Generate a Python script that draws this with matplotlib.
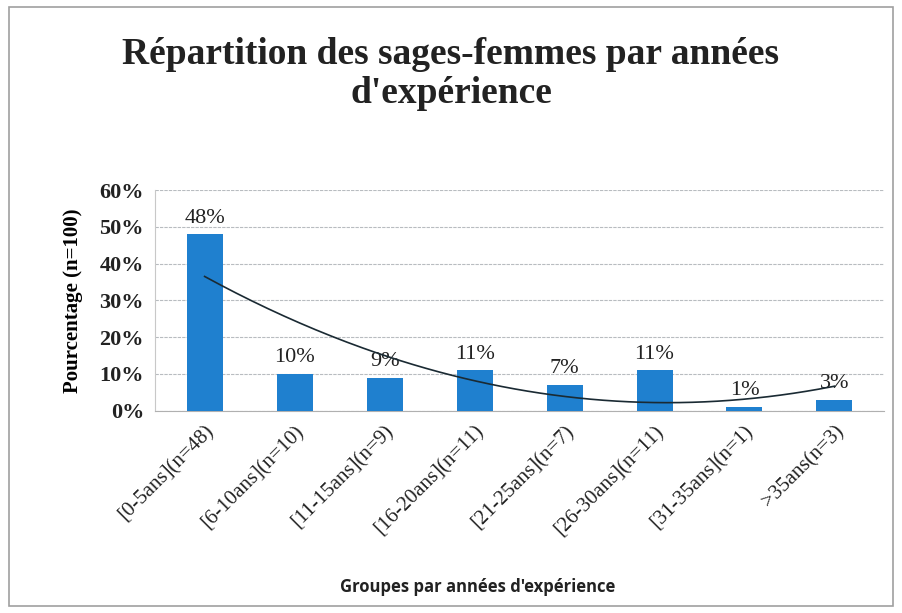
import matplotlib
matplotlib.use('Agg')
import matplotlib.pyplot as plt
import matplotlib.patches as mpatches
import numpy as np

categories = ['[0-5ans](n=48)', '[6-10ans](n=10)', '[11-15ans](n=9)',
              '[16-20ans](n=11)', '[21-25ans](n=7)', '[26-30ans](n=11)',
              '[31-35ans](n=1)', '>35ans(n=3)']
percentages = [48, 10, 9, 11, 7, 11, 1, 3]
yticks = [0, 10, 20, 30, 40, 50, 60]

serif = ['Liberation Serif', 'DejaVu Serif']

fig = plt.figure(figsize=(9.02, 6.13), dpi=100)
ax = fig.add_axes([0.172, 0.33, 0.808, 0.36])

x = np.arange(len(categories))
ax.bar(x, percentages, width=0.4, color='#1f80cf', zorder=3)
for xi, v in zip(x, percentages):
    ax.text(xi, v + 1.8, '{}%'.format(v), ha='center', va='bottom',
            fontsize=16, family=serif, color='#222222', zorder=4)

# polynomial trendline (order 2), as Excel draws it
z = np.polyfit(x + 1, percentages, 2)
xs = np.linspace(0, len(categories) - 1, 200)
ax.plot(xs, np.poly1d(z)(xs + 1), color='#1a2a33', lw=1.2, zorder=5)

ax.set_xlim(-0.55, len(categories) - 0.45)
ax.set_ylim(0, 60)
ax.set_yticks(yticks)
ax.set_yticklabels(['{}%'.format(t) for t in yticks], family=serif,
                   fontsize=16, fontweight='bold', color='#222222')
ax.set_xticks(x)
ax.set_xticklabels(categories, rotation=45, ha='right', rotation_mode='anchor',
                   family=serif, fontsize=15, color='#222222')
ax.tick_params(length=0, pad=8)
ax.grid(axis='y', color='#b8bcc0', lw=0.8, ls=(0, (3, 1)), zorder=0)
for s in ['top', 'right']:
    ax.spines[s].set_visible(False)
ax.spines['left'].set_color('#c8c8c8')
ax.spines['bottom'].set_color('#b0b0b0')

ax.set_ylabel('Pourcentage (n=100)', family=serif, fontsize=15,
              fontweight='bold', labelpad=12)
fig.text(0.53, 0.035, "Groupes par années d'expérience", ha='center',
         fontsize=12, fontweight='bold', family=['Open Sans', 'DejaVu Sans'],
         color='#222222')
fig.text(0.5, 0.88, "Répartition des sages-femmes par années\nd'expérience",
         ha='center', va='center', fontsize=27, fontweight='bold',
         family=serif, color='#222222', linespacing=1.15)

fig.patches.append(mpatches.Rectangle((0.01, 0.012), 0.98, 0.976,
                                      transform=fig.transFigure, fill=False,
                                      edgecolor='#a0a0a0', lw=1.2))

fig.savefig('out.png', dpi=100)
